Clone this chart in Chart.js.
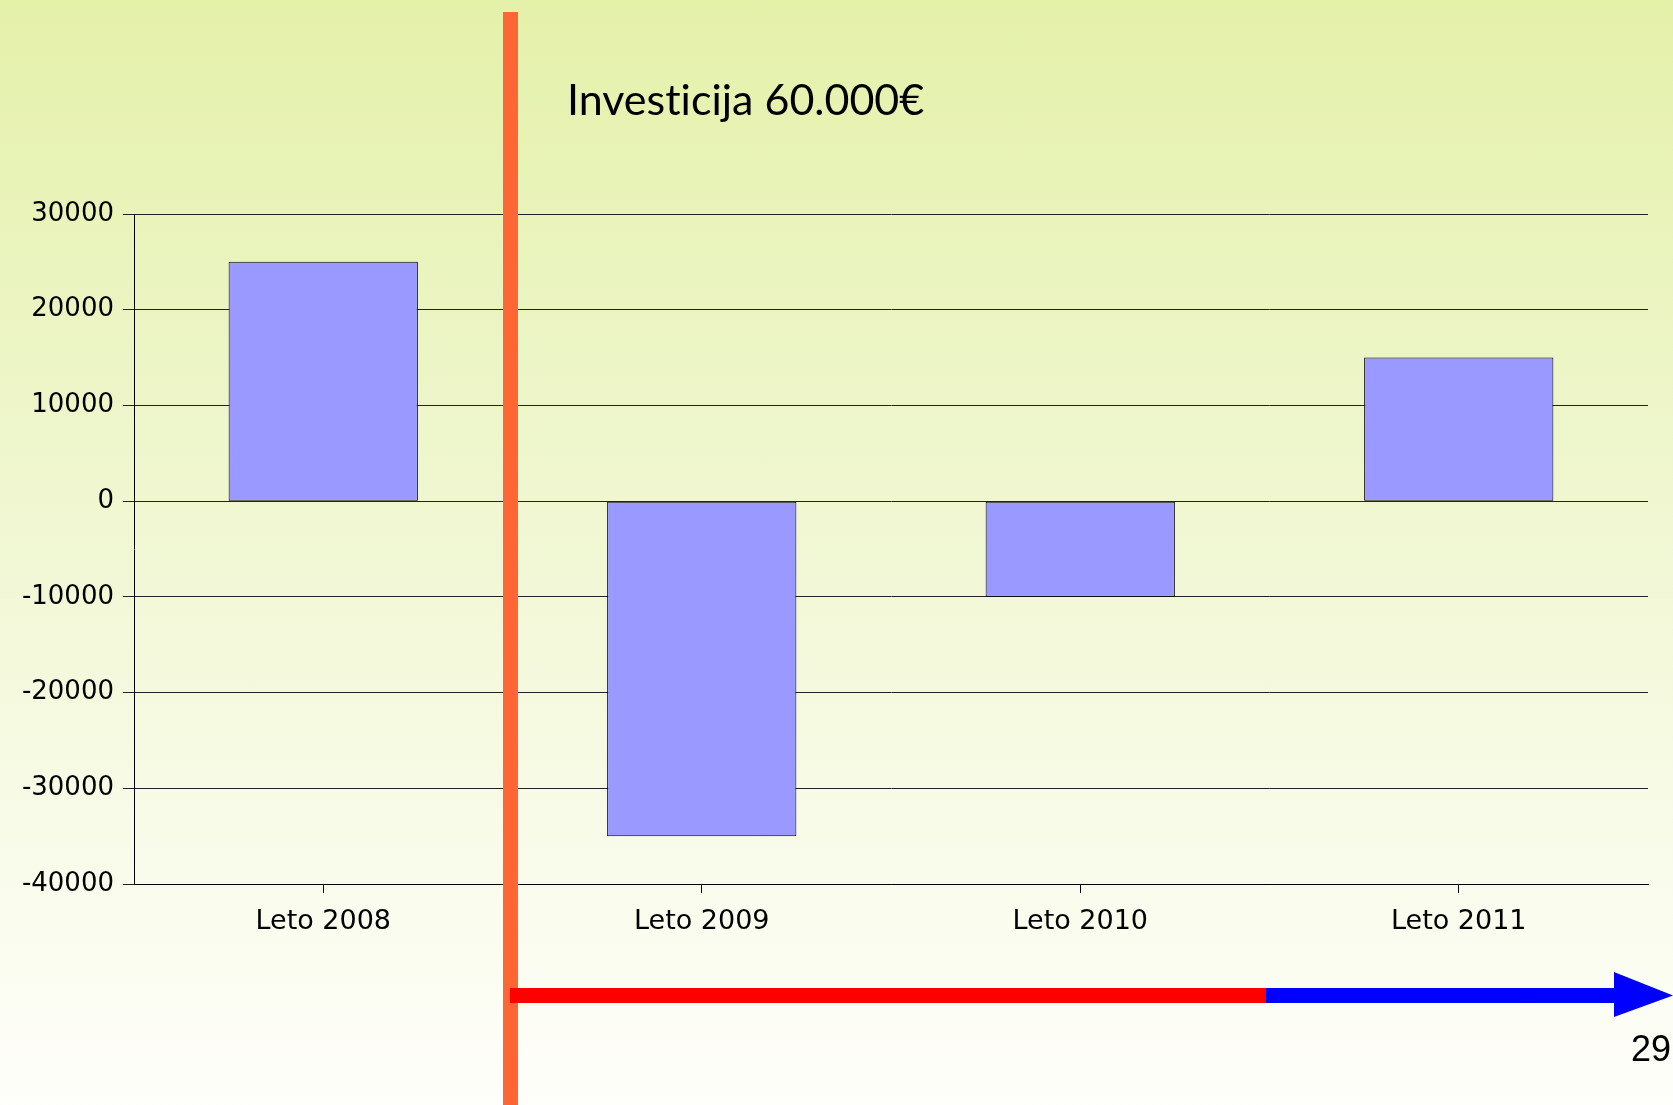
<!DOCTYPE html>
<html>
<head>
<meta charset="utf-8">
<script src="https://cdn.jsdelivr.net/npm/chart.js@4"></script>
<style>
  html, body { margin: 0; padding: 0; }
  body {
    width: 1673px; height: 1105px; overflow: hidden; position: relative;
    background: linear-gradient(to bottom, #e4f1a9 0%, #eef6cc 40%, #f8fbe8 75%, #fefefa 100%);
  }
  #wrap { position: absolute; left: 0; top: 0; width: 1673px; height: 1105px; }
  #naslov {
    position: absolute; left: 567px; top: 77px;
    font-family: Lato, sans-serif; font-size: 43px; line-height: 1; color: #000;
    white-space: nowrap; font-variant-ligatures: none;
  }
  #stran {
    position: absolute; right: 2px; top: 1031px;
    font-family: "Liberation Sans", Arial, sans-serif; font-size: 36px; line-height: 1; color: #000;
  }
</style>
</head>
<body>
<div id="wrap"><canvas id="denarniTok"></canvas></div>
<div id="naslov">Investicija 60.000€</div>
<div id="stran">29</div>
<script>
// podatki
const leta = ['Leto 2008', 'Leto 2009', 'Leto 2010', 'Leto 2011'];
const vrednosti = [25000, -35000, -10000, 15000];
const osY = { min: -40000, max: 30000, korak: 10000 };

// okraski: oranzna navpicna crta in puscica casovnice
const okraski = {
  id: 'okraski',
  afterDraw(chart) {
    const ctx = chart.ctx;
    ctx.save();
    ctx.fillStyle = '#ff6633';
    ctx.fillRect(503, 12, 15, 1093);
    ctx.fillStyle = '#ff0000';
    ctx.fillRect(510, 988, 756, 15);
    ctx.fillStyle = '#0000ff';
    ctx.fillRect(1266, 988, 350, 15);
    ctx.beginPath();
    ctx.moveTo(1614, 972);
    ctx.lineTo(1673, 995.5);
    ctx.lineTo(1614, 1017);
    ctx.closePath();
    ctx.fill();
    ctx.restore();
  }
};

const pisavaX = { family: '"DejaVu Sans", sans-serif', size: 27 };
const pisavaY = { family: '"DejaVu Sans", sans-serif', size: 26 };

const ctx = document.getElementById('denarniTok').getContext('2d');
new Chart(ctx, {
  type: 'bar',
  data: {
    labels: leta,
    datasets: [{
      data: vrednosti,
      backgroundColor: '#9999ff',
      borderColor: '#000000',
      borderWidth: 1,
      borderSkipped: false,
      barPercentage: 0.5,
      categoryPercentage: 1.0
    }]
  },
  options: {
    responsive: true,
    maintainAspectRatio: false,
    animation: false,
    layout: { padding: { top: 214, right: 25, bottom: 161, left: 0 } },
    plugins: { legend: { display: false }, tooltip: { enabled: false } },
    scales: {
      x: {
        afterFit: (s) => { s.height = 60; },
        grid: { offset: false, drawOnChartArea: false, color: '#000', tickLength: 9 },
        border: { color: '#000', width: 1 },
        ticks: { color: '#000', font: pisavaX, padding: 13, maxRotation: 0 }
      },
      y: {
        min: osY.min,
        max: osY.max,
        afterFit: (s) => { s.width = 134; },
        grid: { color: '#222', tickLength: 11 },
        border: { color: '#000', width: 1 },
        ticks: {
          stepSize: osY.korak,
          color: '#000',
          font: pisavaY,
          padding: 9,
          callback: (v) => String(v)
        }
      }
    }
  },
  plugins: [okraski]
});
</script>
</body>
</html>
